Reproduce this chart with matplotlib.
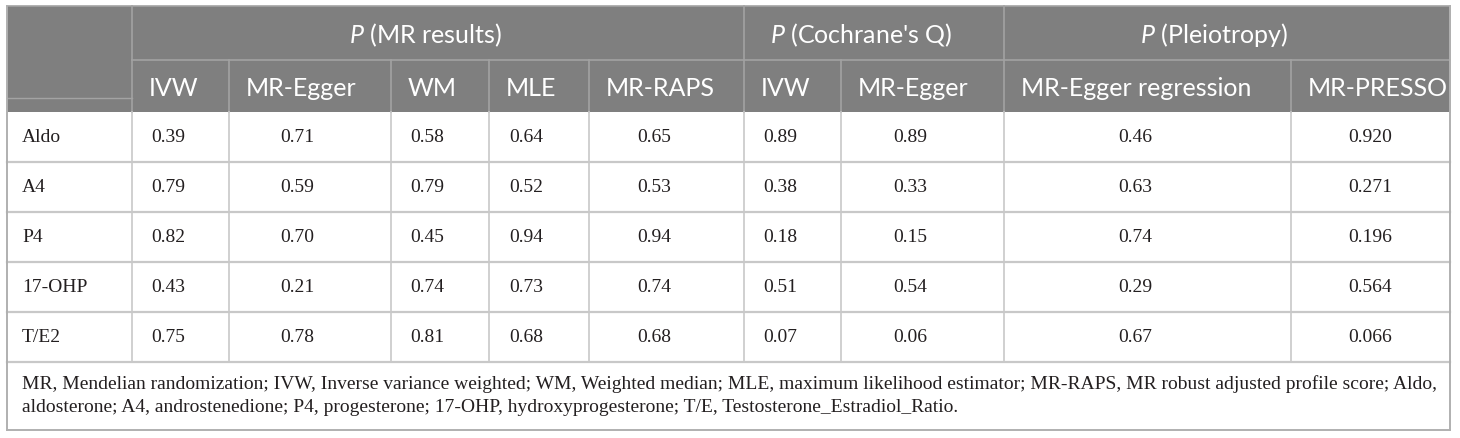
import matplotlib
matplotlib.use('Agg')
import matplotlib.pyplot as plt
from matplotlib.patches import Rectangle

# Werte aus der Tabelle
hormones = ['Aldo', 'A4', 'P4', '17-OHP', 'T/E2']
mr_ivw = [0.39, 0.79, 0.82, 0.43, 0.75]
mr_egger = [0.71, 0.59, 0.70, 0.21, 0.78]
wm = [0.58, 0.79, 0.45, 0.74, 0.81]
mle = [0.64, 0.52, 0.94, 0.73, 0.68]
mr_raps = [0.65, 0.53, 0.94, 0.74, 0.68]
q_ivw = [0.89, 0.38, 0.18, 0.51, 0.07]
q_egger = [0.89, 0.33, 0.15, 0.54, 0.06]
egger_reg = [0.46, 0.63, 0.74, 0.29, 0.67]
presso = [0.920, 0.271, 0.196, 0.564, 0.066]

sub_headers = ['IVW', 'MR-Egger', 'WM', 'MLE', 'MR-RAPS', 'IVW', 'MR-Egger',
               'MR-Egger regression', 'MR-PRESSO']
group_headers = ['(MR results)', "(Cochrane's Q)", '(Pleiotropy)']
group_spans = [(0, 5), (5, 7), (7, 9)]
decimals = [2, 2, 2, 2, 2, 2, 2, 2, 3]

footnote = ['MR, Mendelian randomization; IVW, Inverse variance weighted; WM, Weighted median; '
            'MLE, maximum likelihood estimator; MR-RAPS, MR robust adjusted profile score; Aldo,',
            'aldosterone; A4, androstenedione; P4, progesterone; 17-OHP, hydroxyprogesterone; '
            'T/E, Testosterone_Estradiol_Ratio.']

columns = [mr_ivw, mr_egger, wm, mle, mr_raps, q_ivw, q_egger, egger_reg, presso]

# Layout in Pixeln
W, H = 1460, 439
col_x = [7, 132, 229, 391, 489, 589, 744, 841, 1004, 1291, 1450]
row_y = [113, 163, 213, 263, 313, 363]
top, mid, head_bot, bottom = 7, 61, 113, 431
pad_r = [25, 25, 25, 25, 25, 25, 25, 25, 0]

head_bg = '#7f7f7f'
head_line = '#a3a3a3'
grid = '#c8c8c8'
txt = '#231f20'

plt.rcParams['mathtext.fontset'] = 'custom'
plt.rcParams['mathtext.rm'] = 'Lato'
plt.rcParams['mathtext.it'] = 'Lato:italic'
sans = 'Lato'
serif = 'Liberation Serif'

fig = plt.figure(figsize=(W / 100, H / 100), dpi=100)
ax = fig.add_axes([0, 0, 1, 1])
ax.set_xlim(0, W)
ax.set_ylim(H, 0)
ax.axis('off')

# Kopfbereich
ax.add_patch(Rectangle((col_x[0], top), col_x[-1] - col_x[0], head_bot - top,
                       facecolor=head_bg, edgecolor='none'))
ax.plot([col_x[0], col_x[-1]], [top, top], color=head_line, lw=1.2)
ax.plot([col_x[1], col_x[-1]], [mid, mid], color=head_line, lw=1.2)
ax.plot([col_x[0], col_x[1]], [99, 99], color=head_line, lw=1.0)
ax.plot([col_x[1], col_x[1]], [top, head_bot], color=head_line, lw=1.2)
for gi, (a, b) in enumerate(group_spans):
    ax.plot([col_x[b + 1], col_x[b + 1]], [top, head_bot], color=head_line, lw=1.2)
    for c in range(a + 1, b):
        ax.plot([col_x[c + 1], col_x[c + 1]], [mid, head_bot], color=head_line, lw=1.2)
    xc = (col_x[a + 1] + col_x[b + 1] - 25) / 2
    ax.text(xc, (top + mid) / 2 + 1, r'$\it{P}$ ' + group_headers[gi], color='white',
            fontsize=18, family=sans, ha='center', va='center')

for c, name in enumerate(sub_headers):
    ax.text(col_x[c + 1] + 17, (mid + head_bot) / 2 + 1, name, color='white',
            fontsize=18, family=sans, ha='left', va='center')

# Datenzeilen
for r, hname in enumerate(hormones):
    yc = (row_y[r] + row_y[r + 1]) / 2
    ax.text(col_x[0] + 15, yc, hname, color=txt, fontsize=14, family=serif,
            ha='left', va='center')
    for c, vals in enumerate(columns):
        xc = (col_x[c + 1] + col_x[c + 2] - pad_r[c]) / 2
        ax.text(xc, yc, f'{vals[r]:.{decimals[c]}f}', color=txt, fontsize=14,
                family=serif, ha='center', va='center')

for y in row_y[1:]:
    ax.plot([col_x[0], col_x[-1]], [y, y], color=grid, lw=1.6)
for x in col_x[1:-1]:
    ax.plot([x, x], [head_bot, row_y[-1]], color=grid, lw=1.2)

# Rahmen
ax.plot([col_x[0], col_x[0]], [top, bottom], color='#b0b0b0', lw=1.4)
ax.plot([col_x[-1], col_x[-1]], [top, bottom], color='#b0b0b0', lw=1.4)
ax.plot([col_x[0], col_x[-1]], [bottom, bottom], color='#b0b0b0', lw=1.4)

# Fussnote
for i, line in enumerate(footnote):
    ax.text(col_x[0] + 15, 384 + i * 24, line, color=txt, fontsize=14, family=serif,
            ha='left', va='center')

fig.savefig('out.png', dpi=100)
